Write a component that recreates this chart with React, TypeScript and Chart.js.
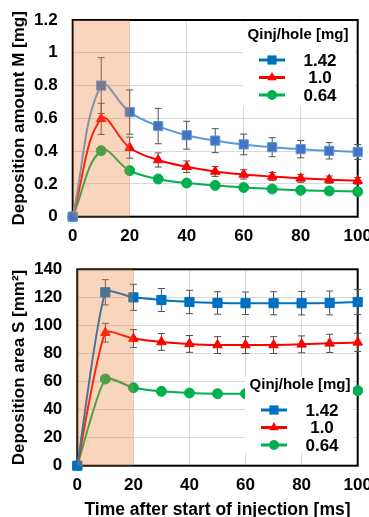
import React, { useEffect, useRef } from "react";
import { Chart, registerables } from "chart.js";

Chart.register(...registerables);

const FONT = "'Liberation Sans', Arial, Helvetica, sans-serif";

// ---------- data ----------
const timeMs = [0, 10, 20, 30, 40, 50, 60, 70, 80, 90, 100];
const seriesNames = ["1.42", "1.0", "0.64"];
const legendTitle = "Qinj/hole [mg]";
const xTitle = "Time after start of injection [ms]";
const yTitleM = "Deposition amount M [mg]";
const yTitleS = "Deposition area S [mm\u00B2]";
const yTickLabelsM = ["0", "0.2", "0.4", "0.6", "0.8", "1", "1.2"];
const yTickLabelsS = ["0", "20", "40", "60", "80", "100", "120", "140"];

// Deposition amount M [mg]
const massM_142 = [0, 0.8, 0.638, 0.553, 0.497, 0.464, 0.441, 0.424, 0.412, 0.402, 0.395];
const massM_100 = [0, 0.597, 0.421, 0.346, 0.305, 0.276, 0.258, 0.245, 0.234, 0.226, 0.219];
const massM_064 = [0, 0.403, 0.281, 0.23, 0.205, 0.191, 0.178, 0.169, 0.161, 0.157, 0.153];
const massErr_142 = [0, 0.17, 0.135, 0.108, 0.085, 0.073, 0.063, 0.058, 0.053, 0.05, 0.045];
const massErr_100 = [0, 0.095, 0.064, 0.043, 0.035, 0.03, 0.028, 0.025, 0.024, 0.022, 0.02];
const massErr_064 = [0, 0, 0, 0, 0, 0, 0, 0, 0, 0, 0];

// Deposition area S [mm2]
const areaS_142 = [0, 123.6, 120.0, 118.1, 116.7, 116.0, 115.8, 115.8, 115.8, 116.0, 116.7];
const areaS_100 = [0, 94.8, 90.6, 88.2, 86.8, 86.0, 86.0, 86.0, 86.5, 87.2, 87.9];
const areaS_064 = [0, 61.8, 55.6, 53.0, 51.8, 51.3, 51.3, 51.5, 52.0, 52.5, 53.5];
const areaErr_142 = [0, 9, 9.3, 8.2, 8.3, 8, 8, 8.2, 8.3, 8.5, 9];
const areaErr_100 = [0, 6.7, 6.4, 6, 6, 6, 6, 6, 6, 6.5, 6.5];
const areaErr_064 = [0, 0, 0, 0, 0, 0, 0, 0, 0, 0, 0];

const injectionWindow = [0, 20];

// ---------- helpers ----------
function drawMarker(ctx: CanvasRenderingContext2D, style: string, x: number, y: number, r: number) {
  ctx.beginPath();
  if (style === "rect") {
    const s = r * Math.SQRT1_2;
    ctx.rect(x - s, y - s, 2 * s, 2 * s);
  } else if (style === "triangle") {
    ctx.moveTo(x, y - r);
    ctx.lineTo(x + r * 0.866, y + r * 0.5);
    ctx.lineTo(x - r * 0.866, y + r * 0.5);
    ctx.closePath();
  } else {
    ctx.arc(x, y, r, 0, Math.PI * 2);
  }
  ctx.fill();
}

const decorPlugin = {
  id: "decor",
  beforeDatasetsDraw(chart: any) {
    const { ctx, chartArea: a } = chart;
    const yScale = chart.scales.y;
    ctx.save();
    // frame
    ctx.strokeStyle = "#000";
    ctx.lineWidth = 2;
    ctx.strokeRect(a.left, a.top, a.right - a.left, a.bottom - a.top);
    // error bars
    ctx.strokeStyle = "#505050";
    ctx.lineWidth = 1;
    chart.data.datasets.forEach((ds: any, i: number) => {
      const meta = chart.getDatasetMeta(i);
      (ds.errors || []).forEach((e: number, j: number) => {
        if (!e) return;
        const pt = meta.data[j];
        const v = ds.data[j].y;
        const yt = yScale.getPixelForValue(v + e);
        const yb = yScale.getPixelForValue(v - e);
        const x = pt.x;
        ctx.beginPath();
        ctx.moveTo(x, yt);
        ctx.lineTo(x, yb);
        ctx.moveTo(x - 3.5, yt);
        ctx.lineTo(x + 3.5, yt);
        ctx.moveTo(x - 3.5, yb);
        ctx.lineTo(x + 3.5, yb);
        ctx.stroke();
      });
    });
    ctx.restore();
  },
  afterDatasetsDraw(chart: any) {
    const { ctx, chartArea: a } = chart;
    const xs = chart.scales.x;
    const x0 = xs.getPixelForValue(injectionWindow[0]);
    const x1 = xs.getPixelForValue(injectionWindow[1]);
    ctx.save();
    ctx.fillStyle = "rgba(237,125,49,0.32)";
    ctx.fillRect(x0, a.top, x1 - x0, a.bottom - a.top);
    ctx.restore();
  },
  afterDraw(chart: any, _args: any, opts: any) {
    const { ctx } = chart;
    const o = opts;
    ctx.save();
    ctx.fillStyle = "#fff";
    ctx.fillRect(o.left, o.top, o.width, o.height);
    ctx.fillStyle = "#000";
    ctx.textAlign = "center";
    ctx.textBaseline = "middle";
    ctx.font = `bold 15px ${FONT}`;
    ctx.fillText(legendTitle, o.left + 55, o.titleY);
    chart.data.datasets.forEach((ds: any, i: number) => {
      const y = o.titleY + 25 + i * 17.5;
      ctx.strokeStyle = ds.legendColor;
      ctx.lineWidth = 3;
      ctx.beginPath();
      ctx.moveTo(o.left + 16, y);
      ctx.lineTo(o.left + 42, y);
      ctx.stroke();
      ctx.fillStyle = ds.legendColor;
      drawMarker(ctx, ds.pointStyle, o.left + 29, y, ds.pointRadius);
      ctx.fillStyle = "#000";
      ctx.font = `bold 17px ${FONT}`;
      ctx.fillText(ds.label, o.left + 77, y + 1);
    });
    ctx.restore();
  },
};

type PanelCfg = {
  width: number;
  height: number;
  yMax: number;
  yStep: number;
  yTickLabels: string[];
  yTitle: string;
  yWidth: number;
  padTop: number;
  padRight: number;
  xHeight: number;
  showXTitle: boolean;
  tension: number;
  series: { label: string; values: number[]; errors: number[]; line: string; fill: string; border: string; legendColor: string; style: string; radius: number }[];
  legend: { left: number; top: number; width: number; height: number; titleY: number };
};

function Panel({ cfg }: { cfg: PanelCfg }) {
  const ref = useRef<HTMLCanvasElement | null>(null);
  useEffect(() => {
    if (!ref.current) return;
    const tickFont = { family: FONT, size: 17, weight: "bold" as const, lineHeight: 1.2 };
    const chart = new Chart(ref.current, {
      type: "line",
      data: {
        datasets: cfg.series.map((s) => ({
          label: s.label,
          data: timeMs.map((x, i) => ({ x, y: s.values[i] })),
          borderColor: s.line,
          backgroundColor: s.fill,
          pointBackgroundColor: s.fill,
          pointBorderColor: s.border,
          pointBorderWidth: 1,
          pointStyle: s.style,
          pointRadius: s.radius,
          borderWidth: 2,
          tension: cfg.tension,
          clip: false,
          errors: s.errors,
          legendColor: s.legendColor,
        })) as any,
      },
      options: {
        responsive: false,
        animation: false,
        devicePixelRatio: 1,
        layout: { padding: { top: cfg.padTop, right: cfg.padRight, left: 0, bottom: 0 } },
        plugins: {
          legend: { display: false },
          tooltip: { enabled: false },
          decor: cfg.legend,
        } as any,
        scales: {
          x: {
            type: "linear",
            min: 0,
            max: 100,
            ticks: { stepSize: 20, color: "#000", font: tickFont, padding: 9, maxRotation: 0, autoSkip: false },
            grid: { color: "#d9d9d9", drawTicks: false, lineWidth: 1 },
            border: { display: false },
            title: {
              display: cfg.showXTitle,
              text: xTitle,
              color: "#000",
              font: { family: FONT, size: 17.5, weight: "bold", lineHeight: 1.2 },
              padding: { top: 0, bottom: -4 },
            },
            afterFit: (s: any) => {
              s.height = cfg.xHeight;
              s.paddingLeft = 0;
              s.paddingRight = 0;
            },
          },
          y: {
            min: 0,
            max: cfg.yMax,
            ticks: {
              stepSize: cfg.yStep,
              color: "#000",
              font: tickFont,
              padding: 15,
              callback: (_v: any, idx: number) => cfg.yTickLabels[idx],
            },
            grid: { color: "#d9d9d9", drawTicks: false, lineWidth: 1 },
            border: { display: false },
            title: {
              display: true,
              text: cfg.yTitle,
              color: "#000",
              font: { family: FONT, size: 17, weight: "bold", lineHeight: 1.2 },
              padding: { top: 9, bottom: 0 },
            },
            afterFit: (s: any) => {
              s.width = cfg.yWidth;
              s.paddingTop = 0;
              s.paddingBottom = 0;
            },
          },
        } as any,
      },
      plugins: [decorPlugin],
    });
    return () => chart.destroy();
  }, [cfg]);
  return <canvas ref={ref} width={cfg.width} height={cfg.height} style={{ display: "block", width: cfg.width, height: cfg.height }} />;
}

const topCfg: PanelCfg = {
  width: 369,
  height: 255,
  yMax: 1.2,
  yStep: 0.2,
  yTickLabels: yTickLabelsM,
  yTitle: yTitleM,
  yWidth: 72.7,
  padTop: 20,
  padRight: 11.3,
  xHeight: 38.3,
  showXTitle: false,
  tension: 0.4,
  series: [
    { label: seriesNames[0], values: massM_142, errors: massErr_142, line: "#5b9bd5", fill: "#4472c4", border: "#5b9bd5", legendColor: "#0070c0", style: "rect", radius: 6.5 },
    { label: seriesNames[1], values: massM_100, errors: massErr_100, line: "#ff0000", fill: "#ff0000", border: "#ff0000", legendColor: "#ff0000", style: "triangle", radius: 5.5 },
    { label: seriesNames[2], values: massM_064, errors: massErr_064, line: "#00b050", fill: "#00b050", border: "#00b050", legendColor: "#00b050", style: "circle", radius: 5 },
  ],
  legend: { left: 243, top: 22, width: 112, height: 84, titleY: 35 },
};

const bottomCfg: PanelCfg = {
  width: 369,
  height: 262,
  yMax: 140,
  yStep: 20,
  yTickLabels: yTickLabelsS,
  yTitle: yTitleS,
  yWidth: 77.3,
  padTop: 14.3,
  padRight: 11.3,
  xHeight: 51.3,
  showXTitle: true,
  tension: 0.2,
  series: [
    { label: seriesNames[0], values: areaS_142, errors: areaErr_142, line: "#0070c0", fill: "#0070c0", border: "#0070c0", legendColor: "#0070c0", style: "rect", radius: 6.5 },
    { label: seriesNames[1], values: areaS_100, errors: areaErr_100, line: "#ff0000", fill: "#ff0000", border: "#ff0000", legendColor: "#ff0000", style: "triangle", radius: 5.5 },
    { label: seriesNames[2], values: areaS_064, errors: areaErr_064, line: "#00b050", fill: "#00b050", border: "#00b050", legendColor: "#00b050", style: "circle", radius: 5 },
  ],
  legend: { left: 245, top: 122, width: 108, height: 76, titleY: 130 },
};

export default function App() {
  return (
    <div style={{ position: "absolute", left: 0, top: 0, width: 369, height: 517, overflow: "hidden", background: "#fff" }}>
      <Panel cfg={topCfg} />
      <Panel cfg={bottomCfg} />
    </div>
  );
}
